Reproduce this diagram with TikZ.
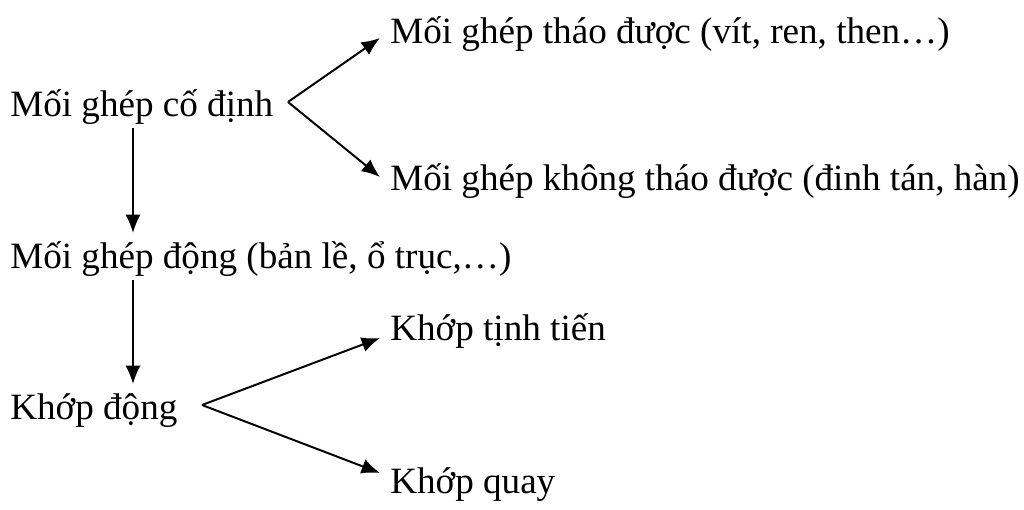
\documentclass[tikz,border=0pt]{standalone}
\usepackage{fontspec}
\setmainfont{Liberation Serif}
\usetikzlibrary{arrows.meta}
\begin{document}
\begin{tikzpicture}[x=0.025cm, y=-0.025cm,
    testo/.style={anchor=base west, inner sep=0pt, font=\fontsize{26.4}{30}\selectfont},
    freccia/.style={line width=1.4pt, -{Latex[length=4.6mm,width=3.8mm]}}]
        \useasboundingbox (0,0) rectangle (1024,510);
        % Nodi
        \node[testo] (codinh) at (10,117) {Mối ghép cố định};
        \node[testo] (thao) at (390,44) {Mối ghép tháo được (vít, ren, then…)};
        \node[testo] (khongthao) at (390,191) {Mối ghép không tháo được (đinh tán, hàn)};
        \node[testo] (dong) at (10,269) {Mối ghép động (bản lề, ổ trục,…)};
        \node[testo] (khop) at (10,419) {Khớp động};
        \node[testo] (tinhtien) at (390,341) {Khớp tịnh tiến};
        \node[testo] (quay) at (390,493) {Khớp quay};

        % Punti
        \coordinate (p1) at (288,102);
        \coordinate (p2) at (202,405);
        \coordinate (thaoIn) at (380,38);
        \coordinate (khongthaoIn) at (380,177);
        \coordinate (codinhOut) at (133,128);
        \coordinate (dongIn) at (133,233);
        \coordinate (dongOut) at (133,280);
        \coordinate (khopIn) at (133,384);
        \coordinate (tinhtienIn) at (380,338);
        \coordinate (quayIn) at (380,473);

        % Archi
        \draw[freccia] (p1) -- (thaoIn); % verso tháo được
        \draw[freccia] (p1) -- (khongthaoIn); % verso không tháo được
        \draw[freccia] (codinhOut) -- (dongIn); % cố định -> động
        \draw[freccia] (dongOut) -- (khopIn); % động -> khớp
        \draw[freccia] (p2) -- (tinhtienIn); % verso tịnh tiến
        \draw[freccia] (p2) -- (quayIn); % verso quay

    \end{tikzpicture}
\end{document}
